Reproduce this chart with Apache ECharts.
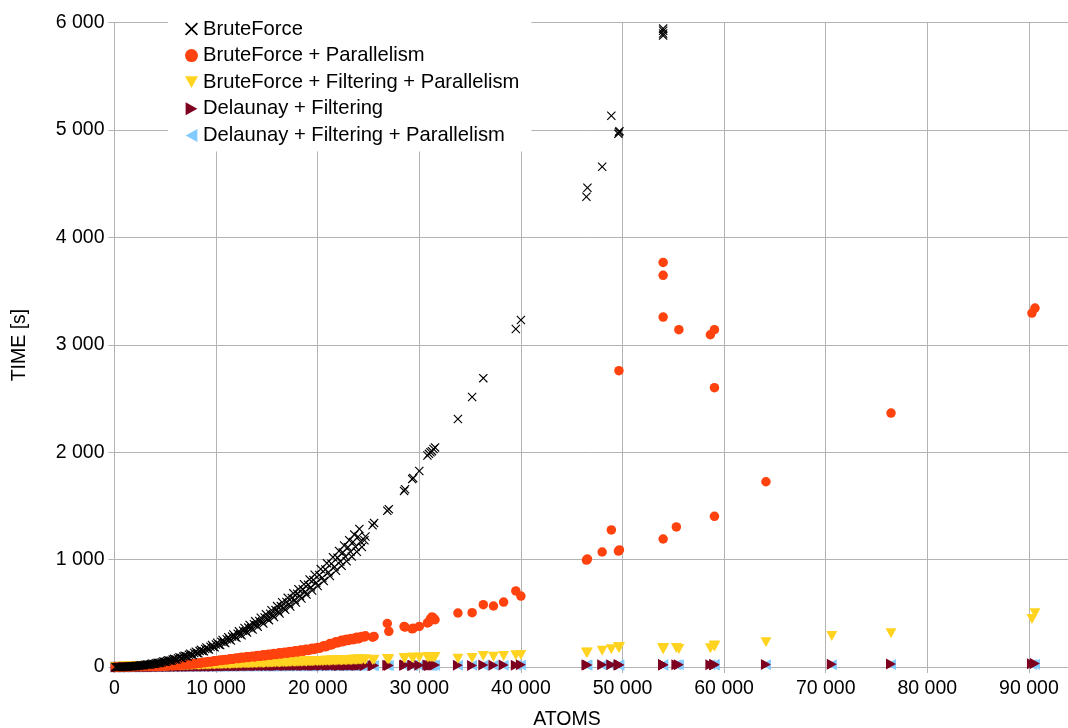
<!DOCTYPE html>
<html>
<head>
<meta charset="utf-8">
<title>Neighbour search timing</title>
<script src="https://cdn.jsdelivr.net/npm/echarts@6/dist/echarts.min.js"></script>
<style>
  html, body { margin: 0; padding: 0; background: #ffffff; }
  #chart { width: 1068px; height: 728px; }
</style>
</head>
<body>
<div id="chart"></div>
<script>
// Number of atoms in each test case (x values shared by every series)
const ATOMS = [
  100, 350, 600, 850, 1100, 1350, 1600, 1850, 2100, 2400,
  2650, 2900, 3200, 3450, 3700, 4000, 4250, 4500, 4800, 5050,
  5300, 5600, 5850, 6100, 6400, 6650, 6900, 7200, 7450, 7700,
  8000, 8250, 8500, 8800, 9050, 9300, 9600, 9850, 10100, 10400,
  10650, 10900, 11200, 11450, 11700, 12000, 12250, 12500, 12800, 13050,
  13300, 13600, 13850, 14100, 14400, 14650, 14900, 15200, 15450, 15700,
  16000, 16250, 16500, 16800, 17050, 17300, 17600, 17850, 18100, 18400,
  18650, 18900, 19200, 19450, 19700, 20000, 20300, 20600, 20900, 21200,
  21500, 21800, 22100, 22350, 22600, 22850, 23100, 23350, 23600, 23850,
  24100, 24350,
  24600, 24700, 25400, 25550, 26850, 27000, 28500, 28600, 29300, 29400,
  30000, 30800, 30950, 31100, 31250, 31400, 31550,
  33800, 35200, 36300, 37300, 38300, 39500, 40000,
  46450, 46550, 48000, 48900, 49600, 49650, 49700,
  54000, 54000, 54000, 54000,
  55300, 55550, 58650, 59050, 59050, 59050,
  64120, 70600, 76430, 90300, 90600,
  // second batch of small structures
  225, 475, 725, 975, 1225, 1475, 1725, 1975, 2250, 2525,
  2775, 3050, 3325, 3575, 3850, 4125, 4375, 4650, 4925, 5175,
  5450, 5725, 5975, 6250, 6525, 6775, 7050, 7325, 7575, 7850,
  8125, 8375, 8650, 8925, 9175, 9450, 9725, 9975, 10250, 10525,
  10775, 11050, 11325, 11575, 11850, 12125, 12375, 12650, 12925, 13175,
  13450, 13725, 13975, 14250, 14525, 14775, 15050, 15325, 15575, 15850,
  16125, 16375, 16650, 16925, 17175, 17450, 17725, 17975, 18250, 18525,
  18775, 19050, 19325, 19575, 19850, 20150, 20450, 20750, 21050, 21350,
  21650, 21950, 22225, 22475, 22725, 22975, 23225, 23475, 23725, 23975,
  24225
];

// Run time in seconds, one value per test case (null = not measured)
const BRUTE_FORCE = [
  1, 1, 1, 2, 3, 4, 6, 6, 10, 11,
  16, 16, 23, 22, 30, 30, 40, 38, 51, 48,
  62, 59, 76, 70, 91, 83, 105, 98, 123, 112,
  142, 128, 160, 146, 181, 163, 204, 183, 226, 204,
  251, 224, 278, 247, 303, 272, 332, 295, 363, 321,
  392, 349, 425, 375, 459, 405, 492, 436, 528, 465,
  567, 498, 603, 532, 644, 564, 686, 601, 725, 638,
  770, 674, 816, 713, 859, 754, 912, 800, 967, 848,
  1023, 896, 1081, 942, 1131, 985, 1181, 1028, 1233, 1073,
  1286, 1118,
  1180, 1215, 1320, 1340, 1455, 1470, 1640, 1655, 1750, 1760,
  1825, 1970, 1985, 2000, 2010, 2030, 2045,
  2309, 2514, 2690, null, null, 3147, 3231,
  4379, 4463, 4658, 5133, 4965, 4980, 4990,
  5880, 5900, 5925, 5945,
  null, null, null, null, null, null,
  null, null, null, null, null,
  1, 1, 1, 2, 3, 4, 6, 8, 10, 13,
  16, 20, 22, 27, 29, 36, 38, 45, 48, 57,
  59, 69, 71, 82, 84, 97, 99, 113, 114, 130,
  131, 148, 148, 168, 168, 188, 188, 210, 209, 234,
  231, 258, 255, 283, 279, 310, 305, 338, 332, 367,
  360, 398, 388, 428, 419, 461, 450, 496, 482, 530,
  517, 567, 551, 605, 587, 643, 625, 682, 663, 725,
  701, 766, 743, 810, 784, 857, 831, 909, 881, 962,
  932, 1018, 983, 1067, 1027, 1114, 1073, 1164, 1119, 1213,
  1167
];

const BRUTE_FORCE_PARALLEL = [
  1, 1, 2, 2, 3, 3, 3, 4, 4, 5,
  5, 6, 6, 7, 8, 8, 9, 10, 11, 12,
  13, 15, 15, 18, 19, 22, 23, 27, 27, 32,
  32, 38, 37, 44, 44, 51, 50, 58, 57, 65,
  63, 71, 69, 77, 75, 84, 80, 90, 86, 96,
  91, 101, 96, 107, 101, 114, 106, 119, 112, 125,
  118, 132, 124, 138, 129, 145, 136, 152, 142, 158,
  150, 166, 158, 174, 166, 182, 180, 198, 194, 218,
  214, 236, 230, 248, 240, 258, 250, 266, 258, 276,
  266, 284,
  280, 290, 278, 285, 405, 332, 376, 372, 356, 360,
  378, 410, 420, 448, 466, 456, 440,
  503, 506, 580, 568, 605, 708, 661,
  996, 1005, 1071, 1276, 1080, 2759, 1090,
  1192, 3259, 3647, 3768,
  1304, 3141, 3094, 3141, 2601, 1403,
  1725, null, 2365, 3296, 3343,
  1, 2, 2, 3, 3, 3, 4, 4, 5, 5,
  6, 6, 7, 7, 8, 9, 9, 10, 12, 12,
  14, 14, 17, 17, 20, 21, 25, 25, 30, 29,
  35, 34, 41, 40, 48, 47, 55, 54, 61, 60,
  68, 66, 74, 72, 80, 78, 87, 84, 93, 89,
  98, 94, 104, 99, 110, 104, 117, 110, 122, 116,
  128, 122, 135, 128, 142, 134, 148, 140, 155, 146,
  162, 154, 170, 162, 178, 174, 190, 188, 206, 206,
  226, 224, 242, 236, 254, 246, 262, 254, 272, 262,
  280
];

const BRUTE_FORCE_FILTER_PARALLEL = [
  1, 1, 1, 2, 2, 2, 3, 3, 4, 4,
  5, 5, 6, 6, 7, 8, 8, 9, 9, 10,
  11, 12, 12, 13, 14, 15, 16, 17, 18, 19,
  21, 19, 22, 21, 24, 22, 25, 24, 27, 26,
  28, 27, 30, 29, 32, 30, 33, 32, 35, 33,
  36, 35, 38, 37, 39, 38, 41, 39, 43, 41,
  44, 43, 46, 45, 47, 46, 49, 47, 51, 49,
  52, 50, 54, 52, 55, 54, 57, 55, 59, 57,
  61, 59, 63, 61, 65, 63, 66, 64, 68, 66,
  70, 68,
  70, 71, 66, 68, 75, 72, 82, 84, 85, 86,
  88, 90, 91, 92, 90, 93, 94,
  77, 84, 102, 96, 102, 109, 112,
  133, 136, 152, 165, 183, 178, 186,
  174, 170, 178, 165,
  177, 168, 174, 195, 190, 200,
  230, 289, 314, 447, 500,
  1, 1, 2, 2, 2, 3, 3, 4, 4, 5,
  5, 6, 6, 7, 7, 8, 9, 9, 10, 10,
  12, 12, 13, 14, 15, 16, 17, 18, 19, 20,
  20, 22, 21, 23, 23, 24, 25, 26, 26, 28,
  27, 29, 29, 31, 31, 32, 33, 34, 34, 36,
  35, 37, 37, 39, 38, 40, 40, 42, 42, 43,
  44, 45, 45, 47, 46, 48, 48, 50, 50, 52,
  51, 53, 53, 55, 55, 56, 56, 58, 58, 60,
  60, 62, 62, 64, 64, 66, 65, 67, 67, 69,
  69
];

const DELAUNAY_FILTER = [
  0, 1, 1, 1, 1, 1, 2, 1, 2, 2,
  2, 3, 2, 3, 3, 3, 4, 3, 4, 4,
  4, 5, 4, 5, 6, 5, 6, 6, 7, 6,
  7, 8, 7, 8, 9, 7, 8, 10, 8, 9,
  10, 9, 11, 12, 10, 11, 13, 10, 12, 14,
  11, 13, 15, 12, 14, 16, 12, 13, 17, 14,
  13, 15, 18, 14, 16, 13, 17, 19, 15, 14,
  16, 20, 15, 17, 14, 18, 16, 21, 15, 17,
  19, 16, 14, 20, 17, 15, 22, 16, 18, 15,
  17, 19,
  14, 16, 12, 15, 17, 13, 16, 18, 15, 17,
  16, 18, 14, 17, 19, 16, 18,
  17, 15, 18, 16, 19, 17, 20,
  19, 18, 21, 20, 18, 22, 19,
  20, 21, 19, 22,
  21, 20, 22, 23, 21, 22,
  24, 25, 27, 30, 32,
  1, 1, 1, 1, 2, 1, 2, 2, 2, 3,
  3, 2, 3, 4, 3, 4, 4, 5, 4, 5,
  5, 4, 6, 5, 6, 7, 5, 7, 6, 8,
  7, 9, 8, 7, 9, 10, 8, 11, 9, 10,
  12, 10, 11, 13, 12, 10, 14, 12, 13, 11,
  15, 13, 12, 16, 14, 13, 17, 15, 14, 12,
  16, 18, 14, 15, 19, 16, 14, 17, 20, 16,
  15, 18, 21, 17, 16, 19, 15, 22, 18, 16,
  20, 17, 15, 21, 18, 16, 19, 23, 17, 20,
  18
];

const DELAUNAY_FILTER_PARALLEL = [
  0, 0, 1, 1, 1, 1, 1, 1, 1, 1,
  1, 2, 1, 2, 2, 2, 2, 2, 2, 3,
  2, 3, 3, 3, 3, 3, 3, 4, 3, 4,
  4, 4, 4, 4, 5, 4, 5, 5, 5, 5,
  5, 5, 6, 5, 6, 6, 6, 6, 6, 7,
  6, 7, 7, 7, 7, 7, 8, 7, 8, 8,
  8, 8, 8, 9, 8, 9, 9, 9, 9, 9,
  10, 9, 10, 10, 10, 10, 11, 10, 11, 11,
  11, 12, 11, 12, 12, 12, 12, 13, 12, 13,
  13, 13,
  13, 13, 12, 13, 14, 13, 14, 14, 14, 14,
  15, 15, 15, 15, 15, 16, 16,
  16, 16, 16, 17, 17, 17, 18,
  18, 18, 18, 19, 19, 19, 19,
  19, 19, 19, 19,
  20, 20, 20, 20, 20, 20,
  21, 22, 23, 24, 25,
  0, 1, 1, 1, 1, 1, 1, 1, 1, 2,
  2, 2, 2, 2, 2, 2, 2, 3, 3, 3,
  3, 3, 3, 3, 3, 4, 4, 4, 4, 4,
  4, 4, 5, 5, 5, 5, 5, 5, 5, 6,
  6, 6, 6, 6, 6, 7, 7, 7, 7, 7,
  7, 7, 7, 8, 8, 8, 8, 8, 8, 9,
  9, 9, 9, 9, 9, 10, 10, 10, 10, 10,
  10, 10, 11, 11, 11, 11, 11, 11, 12, 12,
  12, 12, 12, 12, 13, 13, 13, 13, 13, 13,
  13
];

const SERIES_NAMES = [
  'BruteForce',
  'BruteForce + Parallelism',
  'BruteForce + Filtering + Parallelism',
  'Delaunay + Filtering',
  'Delaunay + Filtering + Parallelism'
];

const X_AXIS = { min: 0, max: 100000, step: 10000, title: 'ATOMS' };
const Y_AXIS = { min: 0, max: 6000, step: 1000, title: 'TIME [s]' };

// Marker shapes
const CROSS = 'path://M0,0.9L0.9,0L5,4.1L9.1,0L10,0.9L5.9,5L10,9.1L9.1,10L5,5.9L0.9,10L0,9.1L4.1,5Z';
const TRI_DOWN = 'path://M0,0L10,0L5,9Z';
const TRI_RIGHT = 'path://M0,0L9,5L0,10Z';
const TRI_LEFT = 'path://M9,0L0,5L9,10Z';

const FONT = '"Liberation Sans", Arial, sans-serif';
const GRID_COLOR = '#b3b3b3';

function points(values) {
  const out = [];
  for (let i = 0; i < ATOMS.length; i++) {
    if (values[i] !== null && values[i] !== undefined) out.push([ATOMS[i], values[i]]);
  }
  return out;
}

function spaced(v) {
  return String(v).replace(/\B(?=(\d{3})+(?!\d))/g, ' ');
}

// later series sit underneath earlier ones
const styles = [
  { data: BRUTE_FORCE, color: '#000000', symbol: CROSS, size: 9, z: 6 },
  { data: BRUTE_FORCE_PARALLEL, color: '#ff420e', symbol: 'circle', size: 9.5, z: 5 },
  { data: BRUTE_FORCE_FILTER_PARALLEL, color: '#ffd320', symbol: TRI_DOWN, size: [11, 10], z: 4 },
  { data: DELAUNAY_FILTER, color: '#7e0021', symbol: TRI_RIGHT, size: [10, 11], z: 3 },
  { data: DELAUNAY_FILTER_PARALLEL, color: '#83caff', symbol: TRI_LEFT, size: [10, 11], z: 2 }
];

const legendIcons = [CROSS, 'circle', TRI_DOWN, TRI_RIGHT, TRI_LEFT];

const chart = echarts.init(document.getElementById('chart'), null, { renderer: 'canvas' });

chart.setOption({
  animation: false,
  backgroundColor: '#ffffff',
  textStyle: { fontFamily: FONT },
  // the plot area runs on past the right edge of the page
  grid: {
    left: 114.5, top: 22.7, width: 1016, bottom: 61,
    containLabel: false, outerBoundsMode: 'none'
  },
  xAxis: {
    type: 'value',
    min: X_AXIS.min,
    max: X_AXIS.max,
    interval: X_AXIS.step,
    axisLine: { show: true, onZero: false, lineStyle: { color: GRID_COLOR, width: 1 } },
    axisTick: { show: true, length: 6, lineStyle: { color: GRID_COLOR } },
    splitLine: { show: true, lineStyle: { color: GRID_COLOR, width: 1 } },
    axisLabel: {
      margin: 12, color: '#000', fontSize: 19.5, fontFamily: FONT,
      formatter: spaced
    }
  },
  yAxis: {
    type: 'value',
    min: Y_AXIS.min,
    max: Y_AXIS.max,
    interval: Y_AXIS.step,
    axisLine: { show: true, onZero: false, lineStyle: { color: GRID_COLOR, width: 1 } },
    axisTick: { show: true, length: 6, lineStyle: { color: GRID_COLOR } },
    splitLine: { show: true, lineStyle: { color: GRID_COLOR, width: 1 } },
    axisLabel: {
      margin: 10, color: '#000', fontSize: 19.5, fontFamily: FONT,
      formatter: spaced
    }
  },
  legend: {
    orient: 'vertical',
    left: 168,
    top: 0,
    padding: [19, 12, 6, 17],
    backgroundColor: '#ffffff',
    itemWidth: 13,
    itemHeight: 13,
    itemGap: 6.6,
    selectedMode: false,
    textStyle: { fontSize: 20.2, fontFamily: FONT, color: '#000', lineHeight: 20 },
    data: SERIES_NAMES.map((n, i) => ({ name: n, icon: legendIcons[i] })),
    z: 10
  },
  graphic: [
    {
      type: 'text',
      x: 20, y: 345,
      rotation: Math.PI / 2,
      style: {
        text: Y_AXIS.title, align: 'center', verticalAlign: 'middle',
        font: '19.5px ' + FONT, fill: '#000'
      }
    },
    {
      type: 'text',
      x: 567, y: 720,
      style: {
        text: X_AXIS.title, align: 'center', verticalAlign: 'middle',
        font: '19.5px ' + FONT, fill: '#000'
      }
    }
  ],
  series: styles.map((s, i) => ({
    name: SERIES_NAMES[i],
    type: 'scatter',
    data: points(s.data),
    symbol: s.symbol,
    symbolSize: s.size,
    symbolKeepAspect: false,
    clip: false,
    z: s.z,
    itemStyle: { color: s.color, opacity: 1 },
    emphasis: { disabled: true }
  }))
});
</script>
</body>
</html>
